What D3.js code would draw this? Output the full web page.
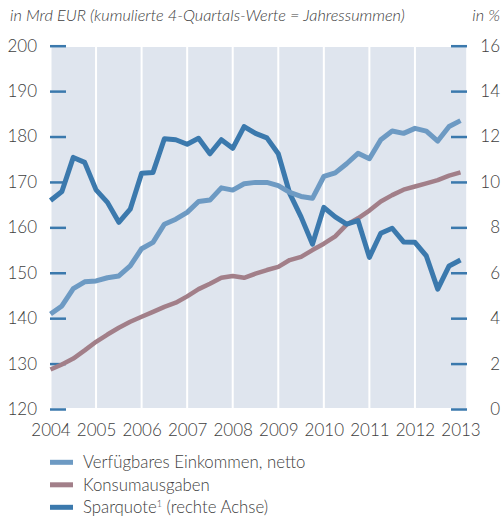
<!DOCTYPE html>
<html>
<head>
<meta charset="utf-8">
<script src="https://cdn.jsdelivr.net/npm/d3@7"></script>
<style>
  body { margin: 0; background: #fff; }
  svg text { font-family: Lato, "Open Sans", sans-serif; font-weight: 300; fill: #404040; }
</style>
</head>
<body>
<div id="chart"></div>
<script>
// quarterly points, 2004 Q1 .. 2013 Q1 (37 values)
var einkommen = [140.9, 142.7, 146.5, 148.0, 148.2, 148.9, 149.3, 151.5, 155.3, 156.7,
  160.7, 161.8, 163.3, 165.7, 166.0, 168.7, 168.2, 169.6, 169.9, 169.9,
  169.2, 167.7, 166.8, 166.4, 171.2, 172.0, 174.0, 176.3, 175.1, 179.3,
  181.2, 180.7, 181.8, 181.2, 179.0, 182.2, 183.5];
var konsum = [128.7, 129.8, 131.1, 132.9, 134.8, 136.4, 137.9, 139.2, 140.3, 141.4,
  142.5, 143.4, 144.8, 146.4, 147.6, 148.9, 149.3, 148.9, 149.8, 150.6,
  151.3, 152.8, 153.5, 155.0, 156.4, 158.0, 160.6, 162.0, 163.7, 165.7,
  167.1, 168.3, 169.0, 169.7, 170.4, 171.4, 172.1];
var sparquote = [9.18, 9.58, 11.08, 10.86, 9.65, 9.1, 8.22, 8.8, 10.38, 10.42,
  11.9, 11.86, 11.66, 11.92, 11.24, 11.86, 11.48, 12.44, 12.14, 11.94,
  11.24, 9.5, 8.46, 7.26, 8.88, 8.46, 8.14, 8.3, 6.68, 7.74,
  7.96, 7.36, 7.34, 6.74, 5.28, 6.3, 6.56];
var years = [2004, 2005, 2006, 2007, 2008, 2009, 2010, 2011, 2012, 2013];
var ticksLeft = [120, 130, 140, 150, 160, 170, 180, 190, 200];
var ticksRight = [0, 2, 4, 6, 8, 10, 12, 14, 16];
var legendLabels = ["Verfügbares Einkommen, netto", "Konsumausgaben", "Sparquote"];

var colors = { einkommen: "#6d9ac3", konsum: "#a27f89", spar: "#3b79ad" };

var width = 504, height = 517;
var svg = d3.select("#chart").append("svg")
  .attr("width", width).attr("height", height);

var x = d3.scaleLinear().domain([0, 36]).range([50.5, 460.5]);
var xYear = function(y) { return x((y - 2004) * 4); };
var yL = d3.scaleLinear().domain([120, 200]).range([409, 45.7]);
var yR = d3.scaleLinear().domain([0, 16]).range([409, 45.7]);

// header
svg.append("text").attr("x", 10).attr("y", 21)
  .style("font-size", "16.3px").style("font-style", "italic")
  .text("in Mrd EUR (kumulierte 4-Quartals-Werte = Jahressummen)");
svg.append("text").attr("x", 500).attr("y", 21).attr("text-anchor", "end")
  .style("font-size", "16.3px").style("font-style", "italic")
  .text("in %");

// panel background with white year separators
svg.append("rect")
  .attr("x", x(0) + 1).attr("y", 47)
  .attr("width", x(36.5) - x(0) - 1).attr("height", 361)
  .attr("fill", "#dfe5ee");
svg.selectAll(".sep").data(years.slice(1, -1)).enter().append("line")
  .attr("x1", function(d) { return xYear(d); })
  .attr("x2", function(d) { return xYear(d); })
  .attr("y1", 47).attr("y2", 408)
  .attr("stroke", "#fff").attr("stroke-width", 2);

// axes
var axL = svg.append("g").attr("transform", "translate(50,0)")
  .call(d3.axisLeft(yL).tickValues(ticksLeft).tickSize(-16).tickPadding(13));
var axR = svg.append("g").attr("transform", "translate(467,0)")
  .call(d3.axisRight(yR).tickValues(ticksRight).tickSize(-16).tickPadding(33));
axR.selectAll("text").attr("text-anchor", "end");
[axL, axR].forEach(function(ax) {
  ax.select(".domain").remove();
  ax.selectAll("line").attr("stroke", colors.spar).attr("stroke-width", 2.5);
  ax.selectAll("text").style("font-size", "17px").style("font-family", "Lato, sans-serif")
    .attr("fill", "#404040");
});

var axX = svg.append("g").attr("transform", "translate(0,420)")
  .call(d3.axisBottom(d3.scaleLinear().domain([2004, 2013]).range([xYear(2004), xYear(2013)]))
    .tickValues(years).tickFormat(d3.format("d")).tickSize(0).tickPadding(4));
axX.select(".domain").remove();
axX.selectAll("text").style("font-size", "17px").style("font-family", "Lato, sans-serif")
  .attr("fill", "#404040");

// lines
var lineL = d3.line().x(function(d, i) { return x(i); }).y(function(d) { return yL(d); });
var lineR = d3.line().x(function(d, i) { return x(i); }).y(function(d) { return yR(d); });

svg.append("path").datum(konsum).attr("d", lineL)
  .attr("fill", "none").attr("stroke", colors.konsum).attr("stroke-width", 4.5)
  .attr("stroke-linejoin", "round");
svg.append("path").datum(sparquote).attr("d", lineR)
  .attr("fill", "none").attr("stroke", colors.spar).attr("stroke-width", 5)
  .attr("stroke-linejoin", "round");
svg.append("path").datum(einkommen).attr("d", lineL)
  .attr("fill", "none").attr("stroke", colors.einkommen).attr("stroke-width", 5)
  .attr("stroke-linejoin", "round");

// legend
var legColors = [colors.einkommen, colors.konsum, colors.spar];
var leg = svg.selectAll(".leg").data(legendLabels).enter().append("g")
  .attr("transform", function(d, i) { return "translate(50," + (462.3 + i * 22.5) + ")"; });
leg.append("rect").attr("x", 0).attr("y", -2.5).attr("width", 23).attr("height", 5)
  .attr("fill", function(d, i) { return legColors[i]; });
var lt = leg.append("text").attr("x", 33).attr("y", 6)
  .style("font-size", "16.8px")
  .text(function(d) { return d; });
lt.filter(function(d, i) { return i === 2; }).append("tspan")
  .attr("dy", -6).style("font-size", "9px").text("1");
lt.filter(function(d, i) { return i === 2; }).append("tspan")
  .attr("dy", 6).text(" (rechte Achse)");
</script>
</body>
</html>
